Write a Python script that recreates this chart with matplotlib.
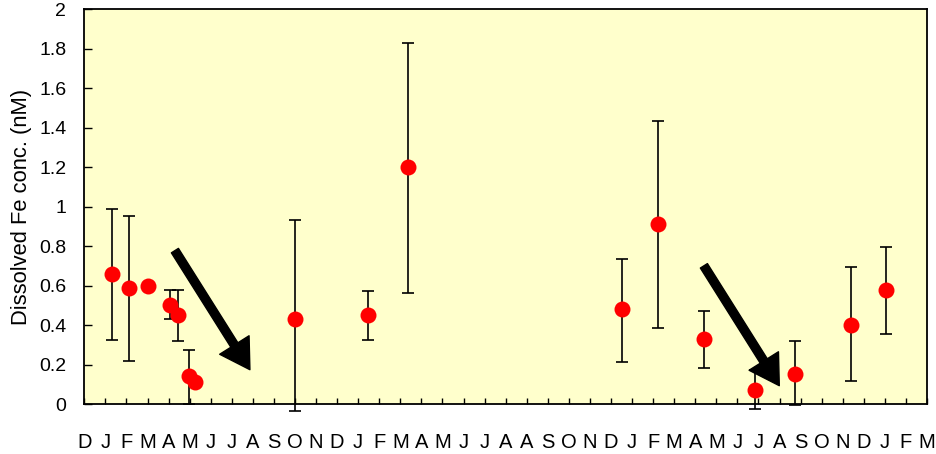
import numpy as np
import matplotlib.pyplot as plt

plt.rcParams['font.family'] = ['Liberation Sans', 'DejaVu Sans']

# sampling time in months from the December at the left edge
months = [1.33, 2.12, 3.02, 4.07, 4.43, 4.98, 5.24, 10.0, 13.45, 15.36,
          25.5, 27.23, 29.41, 31.83, 33.75, 36.37, 38.06]
fe = [0.66, 0.59, 0.60, 0.50, 0.45, 0.14, 0.11, 0.43, 0.45, 1.20,
      0.48, 0.91, 0.33, 0.07, 0.15, 0.40, 0.58]
fe_hi = [0.99, 0.95, None, 0.577, 0.577, 0.274, None, 0.93, 0.575, 1.83,
         0.733, 1.433, 0.469, 0.174, 0.319, 0.696, 0.795]
fe_lo = [0.326, 0.22, None, 0.433, 0.319, 0.0, None, -0.035, 0.326, 0.56,
         0.213, 0.386, 0.184, -0.024, -0.006, 0.115, 0.356]

month_labels = "D J F M A M J J A S O N D J F M A M J J A A S O N D J F M A M J J A S O N D J F M".split()

# decreasing trend arrows (tail, head)
arrows = [((4.30, 0.777), (7.86, 0.174)),
          ((29.41, 0.700), (32.99, 0.093))]

fig = plt.figure(figsize=(9.37, 4.54), dpi=100)
ax = fig.add_axes([0.09, 0.11, 0.8993, 0.87])
ax.set_facecolor('#FFFFCC')

# error bars only where a range was measured
ex, ey, elo, ehi = [], [], [], []
for m, v, lo, hi in zip(months, fe, fe_lo, fe_hi):
    if lo is None:
        continue
    ex.append(m)
    ey.append(v)
    elo.append(v - lo)
    ehi.append(hi - v)
ax.errorbar(ex, ey, yerr=[elo, ehi], fmt='none', ecolor='black',
            elinewidth=1.2, capsize=4.3, capthick=1.2, clip_on=False, zorder=2)
ax.plot(months, fe, 'o', color='#FF0000', markersize=11.5, markeredgewidth=0,
        clip_on=False, zorder=3)

for tail, head in arrows:
    ax.annotate('', xy=head, xytext=tail,
                arrowprops=dict(arrowstyle='simple,head_length=1.05,head_width=1.25,tail_width=0.3',
                                color='black', mutation_scale=20, shrinkA=0, shrinkB=0))

ax.set_xlim(0, 40)
ax.set_ylim(0, 2)
ax.set_xticks(np.arange(41))
ax.set_xticklabels(month_labels)
ax.set_yticks(np.arange(0, 2.01, 0.2))
ax.set_yticklabels([f"{v:g}" for v in np.arange(0, 2.01, 0.2).round(1)])
ax.tick_params(axis='x', direction='in', length=4.3, width=1, pad=20.5, labelsize=14.5)
ax.tick_params(axis='y', direction='in', length=6, width=1, pad=13, labelsize=14)
for s in ax.spines.values():
    s.set_linewidth(1.3)

ax.set_ylabel('Dissolved Fe conc. (nM)', fontsize=15.8)
ax.yaxis.set_label_coords(-0.062, 0.5)

fig.savefig('out.png', dpi=100)
